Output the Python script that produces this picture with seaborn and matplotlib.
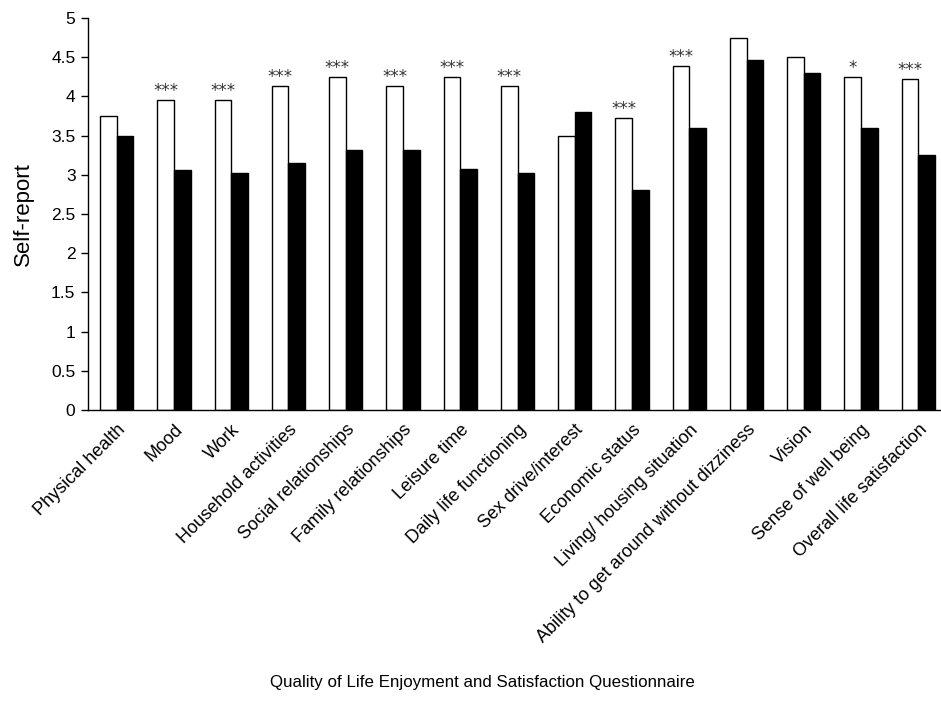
import matplotlib
matplotlib.use("Agg")
import matplotlib.pyplot as plt
import seaborn as sns
import pandas as pd
import numpy as np

categories = ["Physical health", "Mood", "Work", "Household activities",
              "Social relationships", "Family relationships", "Leisure time",
              "Daily life functioning", "Sex drive/interest", "Economic status",
              "Living/ housing situation", "Ability to get around without dizziness",
              "Vision", "Sense of well being", "Overall life satisfaction"]
group_a = [3.75, 3.95, 3.95, 4.13, 4.25, 4.13, 4.25, 4.13, 3.50, 3.73, 4.39, 4.75, 4.50, 4.25, 4.22]
group_b = [3.49, 3.06, 3.02, 3.15, 3.31, 3.31, 3.08, 3.02, 3.80, 2.80, 3.60, 4.46, 4.30, 3.60, 3.25]
signif = ["", "***", "***", "***", "***", "***", "***", "***", "", "***", "***", "", "", "*", "***"]
yticks = ["0", "0.5", "1", "1.5", "2", "2.5", "3", "3.5", "4", "4.5", "5"]

df = pd.DataFrame({
    "cat": categories * 2,
    "val": group_a + group_b,
    "grp": ["A"] * len(categories) + ["B"] * len(categories),
})

sns.set_style("white")
plt.rcParams["font.family"] = ["Liberation Sans", "DejaVu Sans"]
plt.rcParams["text.color"] = "black"
plt.rcParams["axes.labelcolor"] = "black"
plt.rcParams["xtick.color"] = "black"
plt.rcParams["ytick.color"] = "black"

fig = plt.figure(figsize=(9.41, 7.06), dpi=100)
ax = fig.add_axes([88 / 941, 1 - 410 / 706, (947 - 88) / 941, (410 - 18) / 706])

sns.barplot(data=df, x="cat", y="val", hue="grp", order=categories,
            palette={"A": "white", "B": "black"}, edgecolor="black",
            linewidth=1.0, width=0.58, gap=0, legend=False, ax=ax)

for bar, s in zip(ax.containers[0], signif):
    if s:
        ax.text(bar.get_x() + bar.get_width() / 2, bar.get_height(), s,
                ha="center", va="bottom", fontsize=12, color="#333333",
                family="DejaVu Sans")

ax.set_xlim(-0.5, len(categories) - 0.5)
ax.set_ylim(0, 5)
ax.set_yticks(np.arange(0, 5.01, 0.5))
ax.set_yticklabels(yticks, fontsize=12.5)

ax.set_xticks(np.arange(len(categories)))
ax.set_xticklabels(categories, rotation=45, ha="right", rotation_mode="anchor", fontsize=13)
ax.tick_params(axis="x", which="major", length=0, pad=8)
ax.set_xticks(np.arange(-0.5, len(categories), 1.0), minor=True)
ax.tick_params(axis="x", which="minor", length=5, width=1, direction="out", color="black")
ax.tick_params(axis="y", length=5, width=1, direction="out", color="black", left=True, pad=4)

for sp in ["top", "right"]:
    ax.spines[sp].set_visible(False)
for sp in ["left", "bottom"]:
    ax.spines[sp].set_color("black")
    ax.spines[sp].set_linewidth(1)

ax.set_ylabel("Self-report", fontsize=16)
ax.set_xlabel("Quality of Life Enjoyment and Satisfaction Questionnaire", fontsize=12.2)
ax.xaxis.set_label_coords((482 - 88) / (947 - 88), -(683 - 410) / (410 - 18))
ax.yaxis.set_label_coords(-(88 - 23) / (947 - 88), 0.5)
ax.yaxis.label.set_va("center")
ax.xaxis.label.set_va("center")

fig.savefig("out.png", dpi=100)
